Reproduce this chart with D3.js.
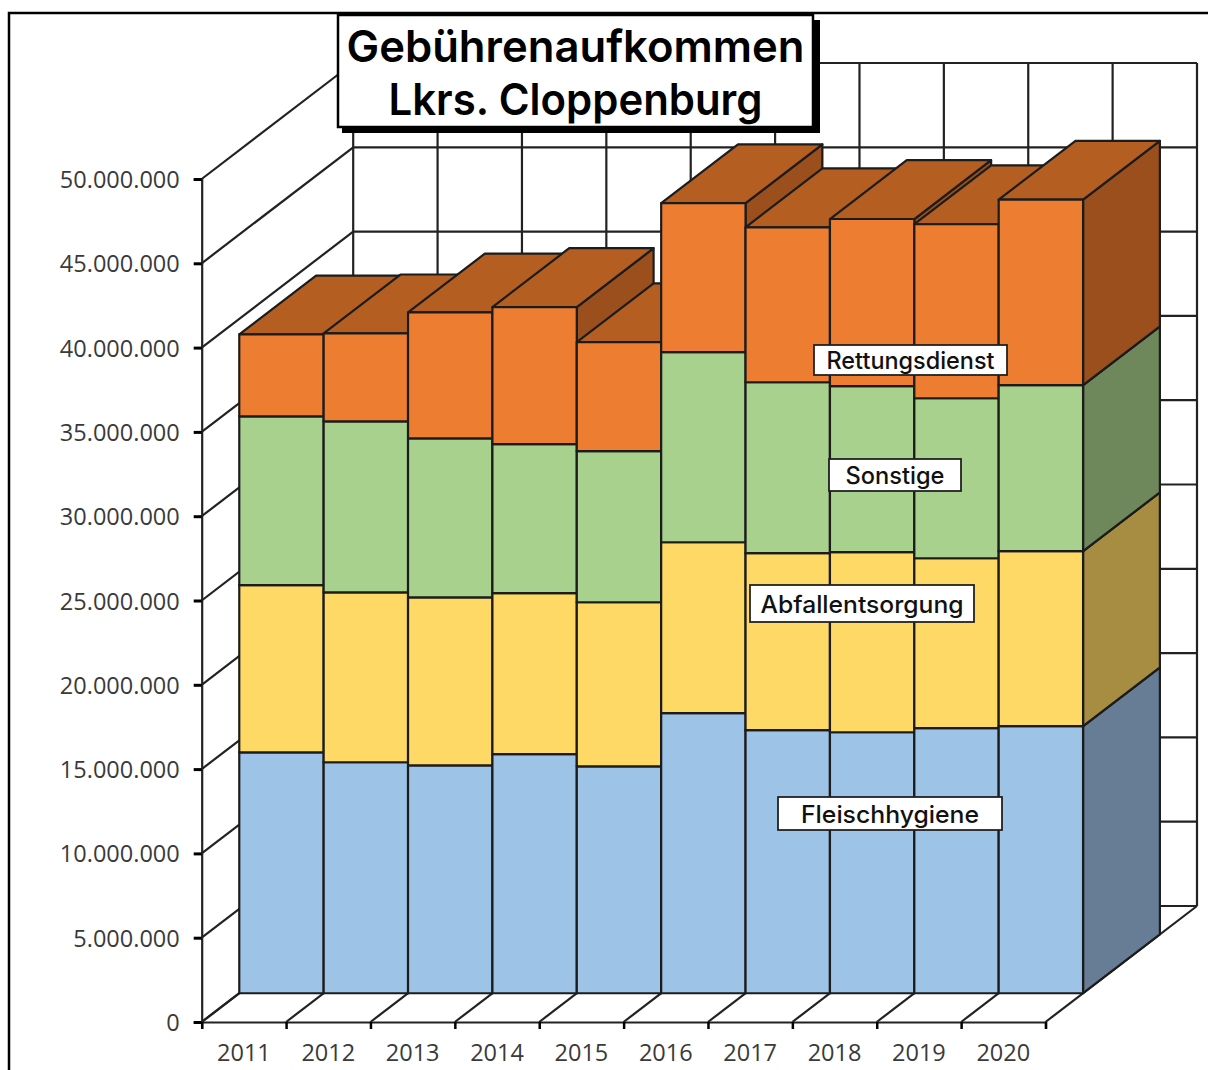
<!DOCTYPE html>
<html>

<head>
    <meta charset="utf-8">
    <title>Gebührenaufkommen Lkrs. Cloppenburg</title>
    <script src="https://cdnjs.cloudflare.com/ajax/libs/d3/7.8.5/d3.min.js"></script>
    <style>
        html, body { margin: 0; padding: 0; background: #fff; overflow: hidden; }
        svg { display: block; }
        .tick-label text { font-family: "Open Sans", sans-serif; font-size: 23.5px; fill: #3a3a3a; }
        .wall { stroke: #222; stroke-width: 2.2; fill: none; }
        .face { stroke: #1c1c1c; stroke-width: 2.2; stroke-linejoin: round; }
        .tag rect { fill: #fff; stroke: #222; stroke-width: 1.8; }
        .tag text { font-family: "Inter", sans-serif; font-weight: 500; font-size: 24px; fill: #111; text-anchor: middle; }
        .title text { font-family: "Inter", sans-serif; font-weight: 600; font-size: 44px; fill: #000; text-anchor: middle; }
    </style>
</head>

<body>
    <div id="chart"></div>

    <script>
        // values in million EUR
        var years = ["2011", "2012", "2013", "2014", "2015", "2016", "2017", "2018", "2019", "2020"];
        var fleischhygiene = [14.29, 13.70, 13.52, 14.18, 13.46, 16.61, 15.60, 15.48, 15.72, 15.84];
        var abfallentsorgung = [9.91, 10.08, 9.96, 9.55, 9.73, 10.14, 10.50, 10.68, 10.08, 10.38];
        var sonstige = [10.02, 10.14, 9.43, 8.84, 8.96, 11.27, 10.14, 9.85, 9.49, 9.85];
        var rettungsdienst = [4.86, 5.22, 7.47, 8.13, 6.47, 8.84, 9.19, 9.91, 10.32, 11.00];

        var seriesNames = ["Fleischhygiene", "Abfallentsorgung", "Sonstige", "Rettungsdienst"];
        var seriesValues = [fleischhygiene, abfallentsorgung, sonstige, rettungsdienst];
        var yTicks = [0, 5, 10, 15, 20, 25, 30, 35, 40, 45, 50];
        var titleLines = ["Gebührenaufkommen", "Lkrs. Cloppenburg"];

        var width = 1208,
            height = 1070;

        // front plane of the 3d box and how far the back wall is shifted
        var plotLeft = 201.7,
            plotRight = 1045.5,
            plotBottom = 1022,
            plotTop = 179,
            depthX = 151.5,
            depthY = 116,
            barZ0 = 0.248,
            barZ1 = 0.755;

        var front = ["#9dc3e6", "#ffd966", "#a9d18e", "#ed7d31"];
        var side = ["#667d95", "#a68d42", "#6e885c", "#9a4f1c"];
        var roof = ["#7f9dba", "#cfae50", "#88a872", "#b45e22"];

        var x = d3.scaleLinear().domain([0, years.length]).range([plotLeft, plotRight]);
        var xBand = d3.scaleBand().domain(years).range([plotLeft, plotRight]);
        var y = d3.scaleLinear().domain([0, 50]).range([plotBottom, plotTop]);

        var fmt = d3.formatLocale({ decimal: ",", thousands: ".", grouping: [3], currency: ["", ""] }).format(",d");

        function px(i, z) { return x(i) + z * depthX; }
        function py(v, z) { return y(v) - z * depthY; }
        function pts(list) { return list.map(function(p) { return p.join(","); }).join(" "); }

        var rows = years.map(function(yr, i) {
            var row = { year: yr, index: i };
            seriesNames.forEach(function(n, s) { row[n] = seriesValues[s][i]; });
            return row;
        });
        var layers = d3.stack().keys(seriesNames)(rows);

        var svg = d3.select("#chart").append("svg")
            .attr("width", width)
            .attr("height", height);

        // outer frame, runs off the page on the right and at the bottom
        svg.append("path")
            .attr("d", "M9," + height + "V13H" + width)
            .attr("fill", "none")
            .attr("stroke", "#000")
            .attr("stroke-width", 2.5);

        // back wall, side wall, floor
        var walls = svg.append("g").attr("class", "wall");
        yTicks.forEach(function(v) {
            walls.append("line")
                .attr("x1", px(0, 1)).attr("x2", px(years.length, 1))
                .attr("y1", py(v, 1)).attr("y2", py(v, 1));
            walls.append("line")
                .attr("x1", px(0, 0)).attr("x2", px(0, 1))
                .attr("y1", py(v, 0)).attr("y2", py(v, 1));
        });
        d3.range(years.length + 1).forEach(function(i) {
            walls.append("line")
                .attr("x1", px(i, 1)).attr("x2", px(i, 1))
                .attr("y1", py(0, 1)).attr("y2", py(50, 1));
            walls.append("line")
                .attr("x1", px(i, 0)).attr("x2", px(i, 1))
                .attr("y1", py(0, 0)).attr("y2", py(0, 1));
        });

        // bars go left to right so the taller sides stay visible
        var bars = svg.append("g");
        years.forEach(function(yr, i) {
            layers.forEach(function(layer, s) {
                var v0 = layer[i][0],
                    v1 = layer[i][1];
                bars.append("polygon").attr("class", "face")
                    .attr("fill", side[s])
                    .attr("points", pts([
                        [px(i + 1, barZ0), py(v0, barZ0)],
                        [px(i + 1, barZ1), py(v0, barZ1)],
                        [px(i + 1, barZ1), py(v1, barZ1)],
                        [px(i + 1, barZ0), py(v1, barZ0)]
                    ]));
                bars.append("polygon").attr("class", "face")
                    .attr("fill", roof[s])
                    .attr("points", pts([
                        [px(i, barZ0), py(v1, barZ0)],
                        [px(i, barZ1), py(v1, barZ1)],
                        [px(i + 1, barZ1), py(v1, barZ1)],
                        [px(i + 1, barZ0), py(v1, barZ0)]
                    ]));
                bars.append("polygon").attr("class", "face")
                    .attr("fill", front[s])
                    .attr("points", pts([
                        [px(i, barZ0), py(v0, barZ0)],
                        [px(i + 1, barZ0), py(v0, barZ0)],
                        [px(i + 1, barZ0), py(v1, barZ0)],
                        [px(i, barZ0), py(v1, barZ0)]
                    ]));
            });
        });

        // axes
        var yAxis = svg.append("g").attr("class", "tick-label")
            .attr("transform", "translate(" + plotLeft + ",1)")
            .call(d3.axisLeft(y).tickValues(yTicks).tickSize(8).tickPadding(14)
                .tickFormat(function(d) { return fmt(d * 1000000); }));
        yAxis.selectAll(".tick line").attr("stroke", "#000").attr("stroke-width", 3).attr("transform", "translate(0,-1)");
        yAxis.select(".domain").attr("stroke", "#222").attr("stroke-width", 2.2).attr("transform", "translate(0,-1)");

        var xTicks = svg.append("g")
            .attr("transform", "translate(0," + plotBottom + ")")
            .call(d3.axisBottom(x).tickValues(d3.range(years.length + 1)).tickSize(7).tickFormat(""));
        xTicks.selectAll(".tick line").attr("stroke", "#000").attr("stroke-width", 2.5);
        xTicks.select(".domain").attr("stroke", "#222").attr("stroke-width", 2.2);

        var xLabels = svg.append("g").attr("class", "tick-label")
            .attr("transform", "translate(0," + plotBottom + ")")
            .call(d3.axisBottom(xBand).tickSize(0).tickPadding(22));
        xLabels.select(".domain").remove();

        // series tags sit on top of the bars
        var tagBoxes = [
            { x: 778, y: 797, w: 224, h: 33, text: 178 },
            { x: 750, y: 585, w: 224, h: 37, text: 203 },
            { x: 829, y: 459, w: 132, h: 32, text: 99 },
            { x: 814, y: 345, w: 193, h: 30, text: 168 }
        ];
        var tags = svg.selectAll(".tag")
            .data(seriesNames)
            .enter().append("g")
            .attr("class", "tag");
        tags.append("rect")
            .attr("x", function(d, i) { return tagBoxes[i].x; })
            .attr("y", function(d, i) { return tagBoxes[i].y; })
            .attr("width", function(d, i) { return tagBoxes[i].w; })
            .attr("height", function(d, i) { return tagBoxes[i].h; });
        tags.append("text")
            .attr("x", function(d, i) { return tagBoxes[i].x + tagBoxes[i].w / 2; })
            .attr("y", function(d, i) { return tagBoxes[i].y + tagBoxes[i].h / 2 + 9; })
            .attr("textLength", function(d, i) { return tagBoxes[i].text; })
            .attr("lengthAdjust", "spacingAndGlyphs")
            .text(function(d) { return d; });

        // title box with hard shadow
        var titleWidths = [458, 374];
        var title = svg.append("g").attr("class", "title");
        title.append("rect")
            .attr("x", 342).attr("y", 20).attr("width", 478).attr("height", 113)
            .attr("fill", "#000");
        title.append("rect")
            .attr("x", 338).attr("y", 15).attr("width", 475).attr("height", 112)
            .attr("fill", "#fff").attr("stroke", "#000").attr("stroke-width", 2.5);
        title.selectAll("text")
            .data(titleLines)
            .enter().append("text")
            .attr("x", 575.5)
            .attr("y", function(d, i) { return 62 + i * 53; })
            .attr("textLength", function(d, i) { return titleWidths[i]; })
            .attr("lengthAdjust", "spacingAndGlyphs")
            .text(function(d) { return d; });
    </script>
</body>

</html>
